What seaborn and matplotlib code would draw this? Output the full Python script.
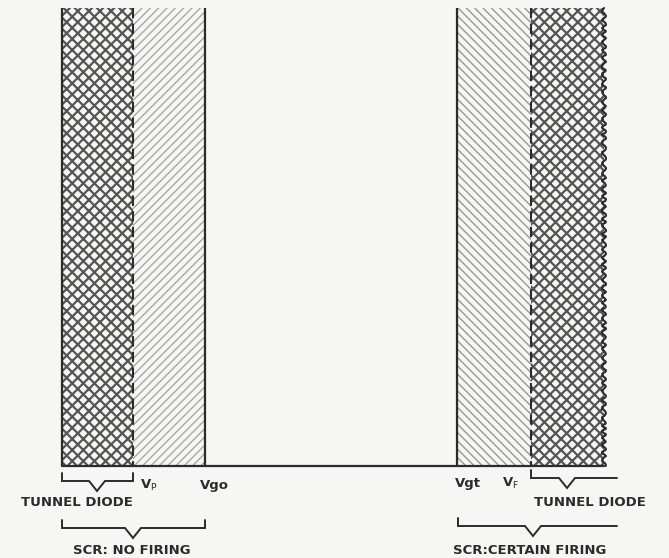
import numpy as np
import pandas as pd
import matplotlib
matplotlib.use("Agg")
import matplotlib.pyplot as plt
import seaborn as sns

# ==========================
# DATA (positions along the gate-voltage axis, drawing units)
# ==========================

edge_left = 62
v_p = 133
v_go = 205
v_gt = 457
v_f = 531
edge_right = 604

top = 8
base = 466

region_names = ["td_low", "scr_no", "scr_certain", "td_high"]
region_x0 = [edge_left, v_p, v_gt, v_f]
region_x1 = [v_p, v_go, v_f, edge_right]
region_hatch = ["xxx", "////", "\\\\\\\\", "xxx"]
region_color = ["#555555", "#a8a8a8", "#989898", "#555555"]
region_hlw = [1.6, 1.0, 1.0, 1.6]

tick_labels = [r"V$_\mathrm{P}$", "Vgo", "Vgt", r"V$_\mathrm{F}$"]
tick_x = [140, 200, 455, 502]
tick_y = [485, 485, 483, 483]

bracket_labels = ["TUNNEL DIODE", "SCR: NO FIRING", "TUNNEL DIODE", "SCR:CERTAIN FIRING"]
bracket_x0 = [edge_left, edge_left, v_f, v_gt + 1]
bracket_x1 = [v_p, v_go, 617, 617]
bracket_tip = [97, 133, 567, 533]
bracket_y = [481, 528, 478, 526]
bracket_right_tick = [True, True, False, False]
label_x = [77, 132, 590, 530]
label_y = [503, 550, 503, 550]

# ==========================
# FIGURE
# ==========================

sns.set_theme(style="white")
plt.rcParams["font.family"] = ["DejaVu Sans"]

fig = plt.figure(figsize=(6.69, 5.58), dpi=100)
fig.patch.set_facecolor("#f6f6f4")
ax = fig.add_axes([0, 0, 1, 1])
ax.set_facecolor("#f6f6f4")
ax.set_xlim(0, 669)
ax.set_ylim(558, 0)
ax.axis("off")

ink = "#2b2b2b"

# hatched regions
for x0, x1, h, c, hlw in zip(region_x0, region_x1, region_hatch,
                             region_color, region_hlw):
    with plt.rc_context({"hatch.linewidth": hlw}):
        ax.fill_between([x0, x1], top, base, hatch=h, facecolor="none",
                        edgecolor=c, linewidth=0)

# baseline
base_df = pd.DataFrame({"x": [edge_left, edge_right], "y": [base, base]})
sns.lineplot(data=base_df, x="x", y="y", color=ink, linewidth=1.6, ax=ax)

# solid boundaries
ax.vlines([edge_left, v_go, v_gt], top, base, color=ink, linewidth=1.6)

# dashed boundaries at Vp and VF
ax.vlines([v_p, v_f], top, base, color=ink, linewidth=1.5,
          linestyles=[(0, (5, 2.5))])

# ragged right edge
rag, = ax.plot([edge_right, edge_right], [top, base], color=ink, linewidth=1.5)
rag.set_sketch_params(scale=2.0, length=9, randomness=2)

# tick labels
for t, x, y in zip(tick_labels, tick_x, tick_y):
    ax.text(x, y, t, ha="left", va="center", fontsize=9.5,
            fontweight="bold", color=ink)

# brackets
for x0, x1, tip, y, rt, lab, lx, ly in zip(bracket_x0, bracket_x1, bracket_tip,
                                         bracket_y, bracket_right_tick,
                                         bracket_labels, label_x, label_y):
    xs = [x0, x0, tip - 8, tip, tip + 8, x1]
    ys = [y - 8, y, y, y + 10, y, y]
    if rt:
        xs.append(x1)
        ys.append(y - 8)
    ax.plot(xs, ys, color=ink, linewidth=1.4, solid_joinstyle="miter")
    ax.text(lx, ly, lab, ha="center", va="center", fontsize=9.5,
            fontweight="bold", color=ink)

fig.savefig("out.png", dpi=100, facecolor=fig.get_facecolor())
